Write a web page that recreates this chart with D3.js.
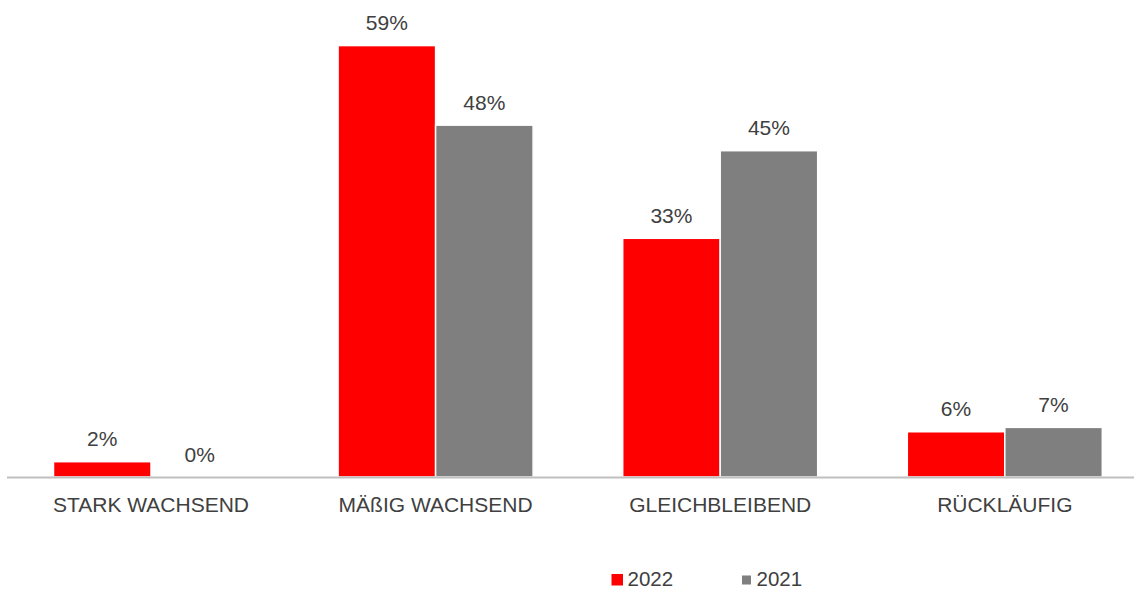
<!DOCTYPE html>
<html>
<head>
<meta charset="utf-8">
<script src="https://cdn.jsdelivr.net/npm/d3@7"></script>
<style>
  html, body { margin: 0; padding: 0; background: #fff; overflow: hidden; }
  svg { display: block; font-family: "Liberation Sans", Arial, sans-serif; }
</style>
</head>
<body>
<div id="chart"></div>
<script>
const categories = ["STARK WACHSEND", "MÄßIG WACHSEND", "GLEICHBLEIBEND", "RÜCKLÄUFIG"];
const seriesNames = ["2022", "2021"];
const values2022 = [2.1, 59.1, 32.7, 6.2];
const values2021 = [0, 48.2, 44.7, 6.8];
const colors = ["#ff0000", "#7f7f7f"];

(() => {
  const width = 1134, height = 590;
  const baseY = 477;
  const textColor = "#404040";
  const fontSize = "21px";

  const svg = d3.select("#chart")
    .append("svg")
    .attr("width", width)
    .attr("height", height);

  const x0 = d3.scaleBand()
    .domain(categories)
    .range([8.7, 1147.1]);

  const bw = x0.bandwidth();
  const x1 = d3.scaleBand()
    .domain(seriesNames)
    .range([bw / 2 - 97.5, bw / 2 + 97.5]);

  const y = d3.scaleLinear()
    .domain([0, 60])
    .range([baseY, 39]);

  const rows = categories.map((c, i) => ({
    cat: c,
    vals: [
      { s: seriesNames[0], v: values2022[i], color: colors[0] },
      { s: seriesNames[1], v: values2021[i], color: colors[1] },
    ],
  }));

  const groups = svg.selectAll("g.cat")
    .data(rows)
    .enter()
    .append("g")
    .attr("class", "cat")
    .attr("transform", d => `translate(${x0(d.cat)},0)`);

  groups.selectAll("rect")
    .data(d => d.vals)
    .enter()
    .append("rect")
    .attr("x", d => x1(d.s))
    .attr("y", d => y(d.v))
    .attr("width", x1.bandwidth())
    .attr("height", d => baseY - y(d.v))
    .attr("fill", d => d.color)
    .attr("stroke", "#fff")
    .attr("stroke-width", d => d.v > 0 ? 1.5 : 0);

  groups.selectAll("text.val")
    .data(d => d.vals)
    .enter()
    .append("text")
    .attr("class", "val")
    .attr("x", d => x1(d.s) + x1.bandwidth() / 2)
    .attr("y", d => y(d.v) - 15.5)
    .attr("text-anchor", "middle")
    .attr("fill", textColor)
    .style("font-size", fontSize)
    .text(d => `${Math.round(d.v)}%`);

  // Kategorienachse
  const axis = svg.append("g")
    .attr("transform", `translate(0,${baseY})`)
    .call(d3.axisBottom(x0).tickSize(0).tickPadding(0));

  axis.select(".domain")
    .attr("d", `M7,0.5H${width}`)
    .attr("stroke", "#bfbfbf")
    .attr("stroke-width", 2);

  axis.selectAll("text")
    .attr("dy", 0)
    .attr("y", 34.5)
    .attr("fill", textColor)
    .style("font-size", fontSize)
    .style("font-family", "\"Liberation Sans\", Arial, sans-serif");

  // Legende
  const legend = svg.append("g");
  const legendItems = [
    { name: seriesNames[0], color: colors[0], sx: 611.5, sy: 574, size: 11.5, tx: 627.5 },
    { name: seriesNames[1], color: colors[1], sx: 742, sy: 575.5, size: 9, tx: 756.5 },
  ];
  legendItems.forEach(d => {
    legend.append("rect")
      .attr("x", d.sx).attr("y", d.sy)
      .attr("width", d.size).attr("height", d.size)
      .attr("fill", d.color);
    legend.append("text")
      .attr("x", d.tx).attr("y", 585.5)
      .attr("fill", textColor)
      .style("font-size", "20.5px")
      .text(d.name);
  });
})();
</script>
</body>
</html>
